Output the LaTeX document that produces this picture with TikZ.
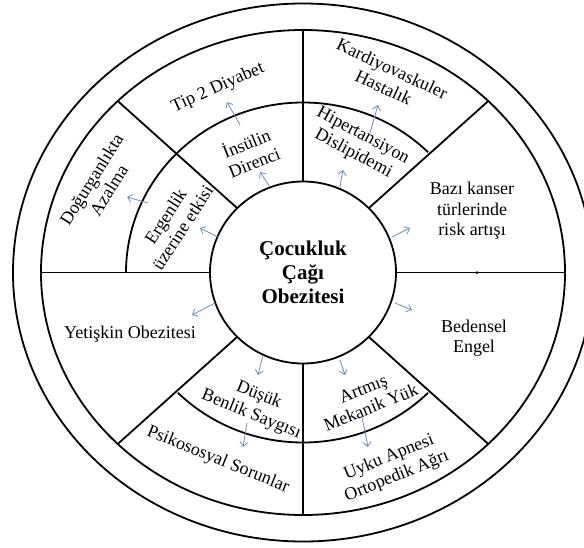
\documentclass[tikz,border=0pt]{standalone}
\usepackage{fontspec}
\newfontfamily\tnr{Liberation Serif}
\usetikzlibrary{arrows.meta}
\definecolor{arrblue}{HTML}{6A8FC0}
\begin{document}
\begin{tikzpicture}[x=1pt,y=1pt,
  ring/.style={line width=1.8pt},
  lbl/.style={font=\tnr\fontsize{18}{20.5}\selectfont, align=center, inner sep=0pt},
  ctr/.style={font=\tnr\fontsize{21}{24}\selectfont\bfseries, align=center, inner sep=0pt},
  arr/.style={draw=arrblue, line width=0.8pt, -{Straight Barb[length=4.5pt,width=8pt]}}]
\useasboundingbox (-303,-274.5) rectangle (281,272.5);
\clip (-303,-274.5) rectangle (281,272.5);
\fill[white] (-303,-274.5) rectangle (281,272.5);
% rings
\draw[ring] (0,0) ellipse [x radius=290, y radius=269];
\draw[ring] (0,0) ellipse [x radius=262, y radius=242.5];
\draw[ring] (0,0) ellipse [x radius=93, y radius=91];
\draw[ring] (45:177pt and 170pt) arc[start angle=45,end angle=180,x radius=177,y radius=170];
\draw[ring] (225:177pt and 170pt) arc[start angle=225,end angle=315,x radius=177,y radius=170];
\foreach \a in {0,45,...,315} \draw[ring] (\a:93pt and 91pt) -- (\a:262pt and 242.5pt);
\fill (174,0) circle (1.5);
% texts
\node[ctr] (center) at (0,0) {Çocukluk\\Çağı\\Obezitesi};
\node[lbl, rotate=24] (tip) at (-85,184.5) {Tip 2 Diyabet};
\node[lbl, rotate=22] (ins) at (-53,120.5) {İnsülin\\Direnci};
\node[lbl, rotate=58] (dog) at (-203,87.5) {Doğurganlıkta\\Azalma};
\node[lbl, rotate=57] (erg) at (-129,50.5) {Ergenlik\\üzerine etkisi};
\node[lbl, rotate=-25] (kar) at (85,194.5) {Kardiyovaskuler\\Hastalık};
\node[lbl, rotate=-28] (hip) at (55,127.5) {Hipertansiyon\\Dislipidemi};
\node[lbl] (kan) at (169,61.5) {Bazı kanser\\türlerinde\\risk artışı};
\node[lbl] (yet) at (-173,-61.5) {Yetişkin Obezitesi};
\node[lbl] (bed) at (171,-65.5) {Bedensel\\Engel};
\node[lbl, rotate=-22] (dus) at (-48,-132.5) {Düşük\\Benlik Saygısı};
\node[lbl, rotate=-22] (psi) at (-85,-187.5) {Psikososyal Sorunlar};
\node[lbl, rotate=22] (art) at (64,-125.5) {Artmış\\Mekanik Yük};
\node[lbl, rotate=22] (uyk) at (90,-194.5) {Uyku Apnesi\\Ortopedik Ağrı};
% arrow end points
\coordinate (a1s) at (-63,147.5);  \coordinate (a1e) at (-76,170.5);
\coordinate (a2s) at (-33,85.5);   \coordinate (a2e) at (-43,100.5);
\coordinate (a3s) at (-155,69.5);  \coordinate (a3e) at (-176,75.5);
\coordinate (a4s) at (-85,35.5);   \coordinate (a4e) at (-103,44.5);
\coordinate (a5s) at (67,139.5);   \coordinate (a5e) at (75,167.5);
\coordinate (a6s) at (37,85.5);    \coordinate (a6e) at (40,102.5);
\coordinate (a7s) at (89,35.5);    \coordinate (a7e) at (107,44.5);
\coordinate (a8s) at (-88,-30.5);  \coordinate (a8e) at (-111,-42.5);
\coordinate (a9s) at (92,-30.5);   \coordinate (a9e) at (109,-37.5);
\coordinate (a10s) at (-40,-82.5); \coordinate (a10e) at (-45,-102.5);
\coordinate (a11s) at (-56,-150.5);\coordinate (a11e) at (-60,-174.5);
\coordinate (a12s) at (37,-87.5);  \coordinate (a12e) at (42,-102.5);
\coordinate (a13s) at (59,-144.5); \coordinate (a13e) at (65,-174.5);
\foreach \i in {1,...,13} \draw[arr] (a\i s) -- (a\i e);
\end{tikzpicture}
\end{document}
